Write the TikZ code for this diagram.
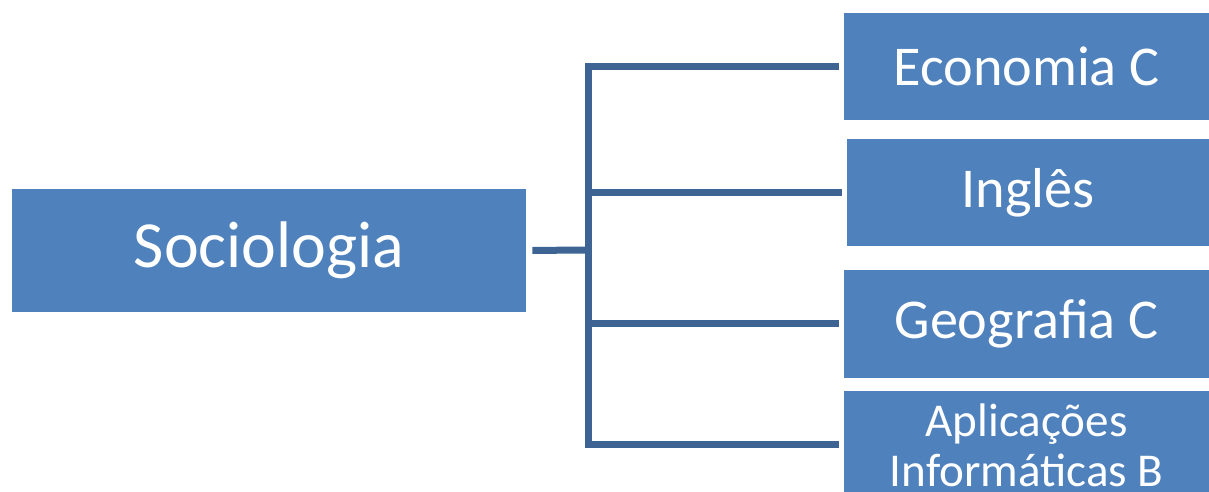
\documentclass[tikz,border=0pt]{standalone}
\usepackage{fontspec}
\setmainfont{Carlito}
\definecolor{boxblue}{RGB}{79,129,189}
\definecolor{lineblue}{RGB}{62,100,148}
\tikzset{
  box/.style={fill=boxblue,text=white,inner sep=0pt,align=center,
    minimum width=7.3cm,minimum height=2.16cm,font=\fontsize{32}{34}\selectfont},
  link/.style={draw=lineblue,line width=1.4mm,shorten >=0.1cm}
}
\begin{document}
\begin{tikzpicture}[x=0.02cm,y=-0.02cm]
		\useasboundingbox (0,0) rectangle (1209,492);
		\clip (0,0) rectangle (1209,492);
		\node[box,minimum width=10.28cm,minimum height=2.46cm,font=\fontsize{37.5}{40}\selectfont] (soc) at (269,250.5) {Sociologia};
		\node[box] (eco) at (1026.5,66.5) {Economia C};
		\node[box,minimum width=7.24cm] (ing) at (1028,192.5) {Inglês};
		\node[box] (geo) at (1026.5,324) {Geografia C};
		\node[box,font=\fontsize{26.8}{28.4}\selectfont] (apl) at (1026.5,445) {Aplicações\\Informáticas B};
		\coordinate (j) at (588,250);
		\draw[link,shorten <=0.12cm,shorten >=0pt] (soc.east) -- (j);
		\foreach \n in {eco,ing,geo,apl}
			\draw[link] (j) |- (\n.west);
		\end{tikzpicture}
\end{document}
